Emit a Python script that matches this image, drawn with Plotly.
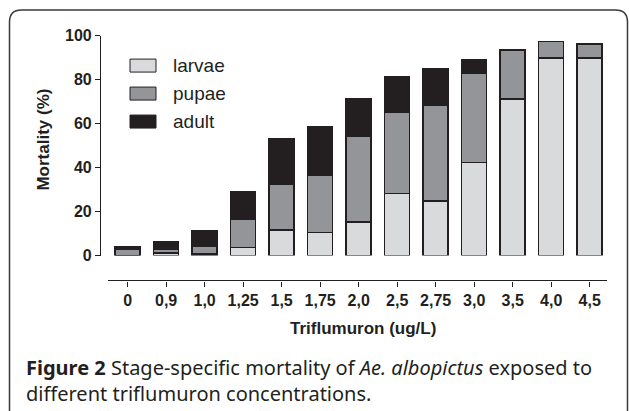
import plotly.graph_objects as go

# ---- data ----
concentrations = ["0", "0,9", "1,0", "1,25", "1,5", "1,75", "2,0", "2,5", "2,75", "3,0", "3,5", "4,0", "4,5"]
larvae = [0.0, 1.2, 0.7, 3.6, 11.5, 10.5, 15.2, 28.3, 24.8, 42.4, 71.1, 89.7, 89.7]
pupae = [3.0, 1.8, 3.7, 12.8, 20.9, 26.2, 38.9, 37.0, 43.5, 40.5, 22.4, 7.6, 6.4]
adult = [0.8, 3.4, 7.0, 12.8, 20.8, 21.9, 17.3, 15.8, 16.5, 6.3, 0.0, 0.0, 0.0]
series_names = ["larvae", "pupae", "adult"]
y_ticks = [0, 20, 40, 60, 80, 100]

# ---- style ----
W, H = 629, 411
INK = "#231f20"
colors = ["#d9dadc", "#939598", "#231f20"]
FONT = "Liberation Sans, Arial, sans-serif"
CAP_FONT = "Noto Sans, Open Sans, sans-serif"

# vertical calibration of the photographed page (observed offset / scale)
Y_OFF, Y_SC = 7.4, 0.959


def fx(px):
    return px / W


def fy(py):
    return 1 - ((py - Y_OFF) / Y_SC) / H


fig = go.Figure()
for name, vals, col in zip(series_names, [larvae, pupae, adult], colors):
    fig.add_trace(go.Bar(
        x=concentrations, y=vals, name=name,
        marker=dict(color=col, line=dict(color=INK, width=1.5)),
        showlegend=False,
    ))

shapes = []
annotations = []

# manual legend (patch + label), top to bottom
leg_y = [65, 93, 121]
for name, col, yc in zip(series_names, colors, leg_y):
    shapes.append(dict(type="rect", xref="paper", yref="paper",
                       x0=fx(130), x1=fx(156), y0=fy(yc - 6.5), y1=fy(yc + 6.5),
                       fillcolor=col, line=dict(color=INK, width=1)))
    annotations.append(dict(text=name, xref="paper", yref="paper",
                            x=fx(171), y=fy(yc), xanchor="left", yanchor="middle",
                            showarrow=False, font=dict(family=FONT, size=19, color=INK)))

# axis titles
annotations.append(dict(text="<b>Mortality (%)</b>", xref="paper", yref="paper",
                        x=fx(44), y=fy(139), textangle=-90, showarrow=False,
                        xanchor="center", yanchor="middle",
                        font=dict(family=FONT, size=17, color=INK)))
annotations.append(dict(text="<b>Triflumuron (ug/L)</b>", xref="paper", yref="paper",
                        x=fx(363), y=fy(328), showarrow=False,
                        xanchor="center", yanchor="middle",
                        font=dict(family=FONT, size=17, color=INK)))

# caption (one text block, two lines)
caption = ("<b>Figure 2</b> Stage-specific mortality of <i>Ae. albopictus</i> exposed to"
           "<br>different triflumuron concentrations.")
annotations.append(dict(
    text=caption, xref="paper", yref="paper", x=fx(24), y=fy(380.5),
    xanchor="left", yanchor="middle", align="left", showarrow=False,
    font=dict(family=CAP_FONT, size=20, color=INK)))

# rounded frame around the figure
r = 12
L, T, R, B = 9.5, 9.5, 627.5, 440
path = (f"M {fx(L)},{fy(B)} L {fx(L)},{fy(T + r)} Q {fx(L)},{fy(T)} {fx(L + r)},{fy(T)} "
        f"L {fx(R - r)},{fy(T)} Q {fx(R)},{fy(T)} {fx(R)},{fy(T + r)} L {fx(R)},{fy(B)}")
shapes.append(dict(type="path", xref="paper", yref="paper", path=path,
                   line=dict(color="#3a3a3a", width=1.5)))

fig.update_layout(
    width=W, height=H,
    margin=dict(l=0, r=0, t=0, b=0),
    paper_bgcolor="white", plot_bgcolor="white",
    barmode="stack", bargap=0.35,
    showlegend=False,
    font=dict(family=FONT, color=INK),
    xaxis=dict(
        type="category", domain=[fx(108), fx(607)], range=[-0.51, 12.45],
        anchor="free", position=fy(280),
        showline=True, linecolor=INK, linewidth=1.2,
        ticks="outside", ticklen=5, tickwidth=1, tickcolor=INK,
        showgrid=False, zeroline=False,
        tickfont=dict(family=FONT, size=16, color=INK, weight="bold"),
    ),
    yaxis=dict(
        domain=[fy(255), fy(35)], range=[0, 100],
        anchor="free", position=fx(100),
        tickvals=y_ticks, ticktext=[str(v) for v in y_ticks],
        showline=True, linecolor=INK, linewidth=1.2,
        ticks="outside", ticklen=5, tickwidth=1, tickcolor=INK,
        showgrid=False, zeroline=False,
        tickfont=dict(family=FONT, size=16, color=INK, weight="bold"),
    ),
    shapes=shapes,
    annotations=annotations,
)

fig.write_html("out.html", config={"displayModeBar": False},
               post_script="document.body.style.margin='0px';")
